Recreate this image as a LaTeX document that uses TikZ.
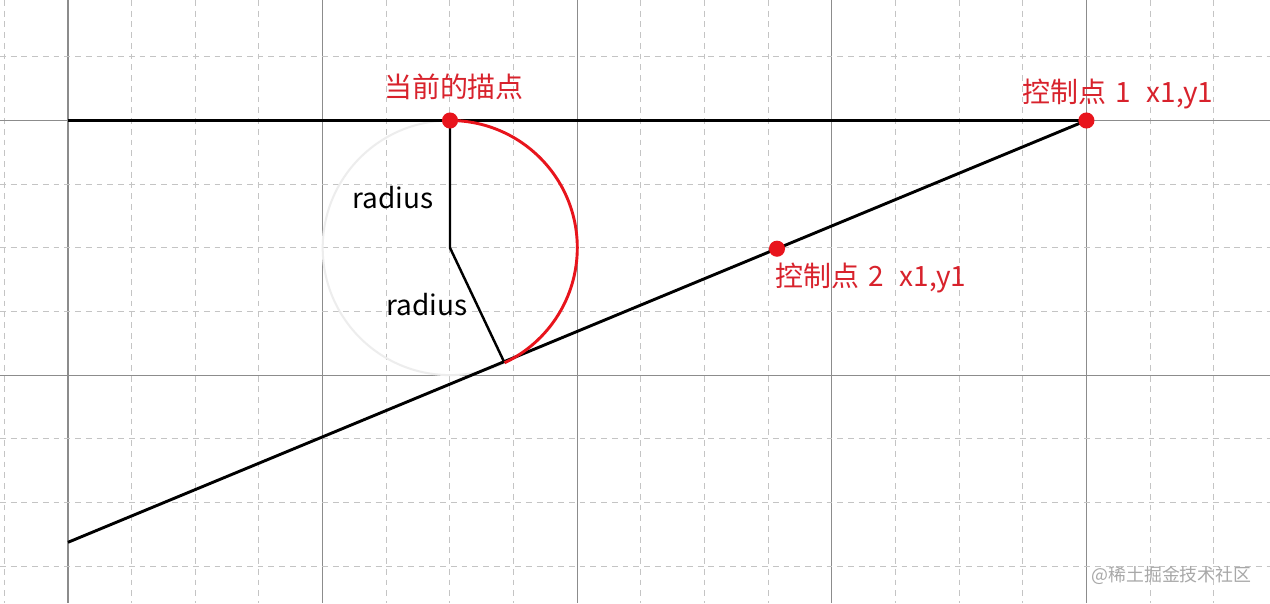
\documentclass[tikz,border=0pt]{standalone}
\usepackage{fontspec}
\setmainfont{Noto Sans CJK SC}
\definecolor{gridsolid}{HTML}{8C8C8C}
\definecolor{griddash}{HTML}{C4C4C4}
\definecolor{ptred}{HTML}{E8141C}
\definecolor{txtred}{HTML}{D8222C}
\definecolor{ghost}{HTML}{EDEDED}
\definecolor{wmgray}{HTML}{A8A8A8}
\tikzset{
  majorline/.style={draw=gridsolid, line width=0.45pt},
  minorline/.style={draw=griddash, line width=0.45pt, dash pattern=on 2.6pt off 2.2pt},
  blackline/.style={draw=black, line width=1.3pt},
  redarc/.style={draw=ptred, line width=1.3pt},
  ghostcircle/.style={draw=ghost, line width=0.9pt},
  ptdot/.style={circle, fill=ptred, inner sep=0pt, minimum size=7.2pt},
  redlabel/.style={text=txtred, inner sep=0pt, font=\fontsize{12.5pt}{15pt}\selectfont},
  blacklabel/.style={text=black, inner sep=0pt, font=\fontsize{12.5pt}{15pt}\selectfont},
  wmlabel/.style={text=wmgray, inner sep=0pt, font=\fontsize{8pt}{10pt}\selectfont},
}
\begin{document}
\begin{tikzpicture}[x=0.015711cm, y=-0.015711cm]
\useasboundingbox (0,0) rectangle (1270,603);
\fill[white] (0,0) rectangle (1270,603);
% grid
\foreach \k in {-1,...,18}{
  \pgfmathsetmacro{\gx}{68+\k*63.65}
  \pgfmathtruncatemacro{\m}{mod(\k+4,4)}
  \ifnum\m=0
    \draw[majorline] (\gx,0) -- (\gx,603);
  \else
    \draw[minorline] (\gx,0) -- (\gx,603);
  \fi
}
\foreach \k in {-1,...,7}{
  \pgfmathsetmacro{\gy}{120.5+\k*63.65}
  \pgfmathtruncatemacro{\m}{mod(\k+4,4)}
  \ifnum\m=0
    \draw[majorline] (0,\gy) -- (1270,\gy);
  \else
    \draw[minorline] (0,\gy) -- (1270,\gy);
  \fi
}
% key points
\coordinate (S) at (68,120.5);
\coordinate (A) at (450,120.5);
\coordinate (C1) at (1086.4,120.5);
\coordinate (C2) at (777,248.7);
\coordinate (E) at (68,542.3);
\coordinate (O) at (450,247.8);
\coordinate (T) at (504,361.7);
% ghost circle
\draw[ghostcircle] (O) circle[radius=127.3];
% lines
\draw[blackline] (S) -- (C1);
\draw[blackline] (C1) -- (E);
\draw[blackline, line width=1.1pt] (A) -- (O) -- (T);
% red arc
\draw[redarc] (A) arc[start angle=-90, end angle=64.6, radius=127.3];
% dots
\node[ptdot] (dA) at (A) {};
\node[ptdot] (dC1) at (C1) {};
\node[ptdot] (dC2) at (C2) {};
% labels
\node[redlabel, anchor=base] (lA) at (454,97.5) {当前的描点};
\node[redlabel, anchor=base west] (lC1) at (1022,102.7) {控制点\hspace{1.5pt} 1\hspace{4pt} x1,y1};
\node[redlabel, anchor=base west] (lC2) at (775,286) {控制点\hspace{1.5pt} 2\hspace{4pt} x1,y1};
\node[blacklabel, anchor=base west] (r1) at (352,208) {radius};
\node[blacklabel, anchor=base west] (r2) at (386,315) {radius};
\node[wmlabel, anchor=base west] (wm) at (1091,581) {@稀土掘金技术社区};
\end{tikzpicture}
\end{document}
